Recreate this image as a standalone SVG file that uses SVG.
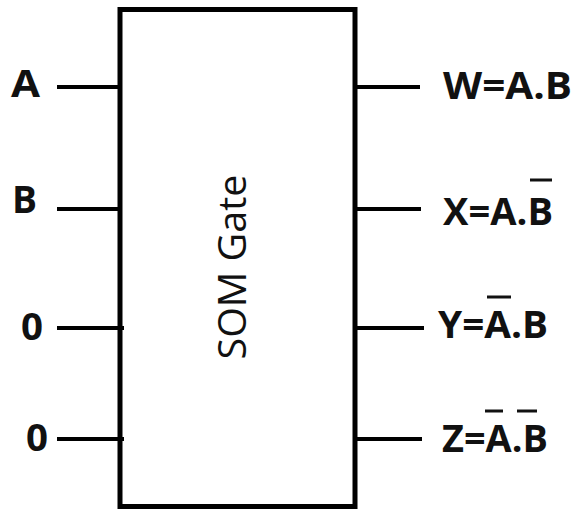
<svg xmlns="http://www.w3.org/2000/svg" width="576" height="512" viewBox="0 0 576 512">
<style>
.lbl{font-family:"Open Sans","Liberation Sans",sans-serif;font-weight:bold;font-size:37px;fill:#111}
.title{font-family:"Open Sans","Liberation Sans",sans-serif;font-size:38px;fill:#111}
.box{fill:#fff;stroke:#000;stroke-width:5}
.wire{stroke:#000;stroke-width:4;fill:none}
.bar{stroke:#111;stroke-width:3}
</style>
<rect width="576" height="512" fill="#fff"/>
<g id="gate">
<rect class="box" x="120" y="9.5" width="235" height="497"/>
<text class="title" transform="translate(246,267) rotate(-90)" text-anchor="middle" textLength="185" lengthAdjust="spacingAndGlyphs">SOM Gate</text>
</g>
<g id="connectors">
<line class="wire" x1="57" y1="87" x2="120" y2="87"/>
<line class="wire" x1="57" y1="209" x2="120" y2="209"/>
<line class="wire" x1="57" y1="328" x2="124" y2="328"/>
<line class="wire" x1="57" y1="439" x2="124" y2="439"/>
<line class="wire" x1="355" y1="87" x2="420" y2="87"/>
<line class="wire" x1="355" y1="209" x2="421" y2="209"/>
<line class="wire" x1="355" y1="328" x2="424" y2="328"/>
<line class="wire" x1="355" y1="439" x2="422" y2="439"/>
</g>
<g id="in-A"><text class="lbl" x="11" y="97" textLength="29" lengthAdjust="spacingAndGlyphs">A</text></g>
<g id="in-B"><text class="lbl" x="12" y="213" textLength="25" lengthAdjust="spacingAndGlyphs">B</text></g>
<g id="in-0a"><text class="lbl" x="21" y="340" textLength="22" lengthAdjust="spacingAndGlyphs">0</text></g>
<g id="in-0b"><text class="lbl" x="26" y="451" textLength="22" lengthAdjust="spacingAndGlyphs">0</text></g>
<g id="out-W"><text class="lbl" x="443" y="99" textLength="129" lengthAdjust="spacingAndGlyphs">W=A.B</text></g>
<g id="out-X"><text class="lbl" x="443" y="225" textLength="110" lengthAdjust="spacingAndGlyphs">X=A.B</text>
<line class="bar" x1="530" y1="180" x2="552" y2="180"/></g>
<g id="out-Y"><text class="lbl" x="438" y="338" textLength="110" lengthAdjust="spacingAndGlyphs">Y=A.B</text>
<line class="bar" x1="487" y1="297" x2="511" y2="297"/></g>
<g id="out-Z"><text class="lbl" x="442" y="452" textLength="106" lengthAdjust="spacingAndGlyphs">Z=A.B</text>
<line class="bar" x1="485" y1="411" x2="503" y2="411"/>
<line class="bar" x1="517" y1="411" x2="537" y2="411"/></g>
</svg>
